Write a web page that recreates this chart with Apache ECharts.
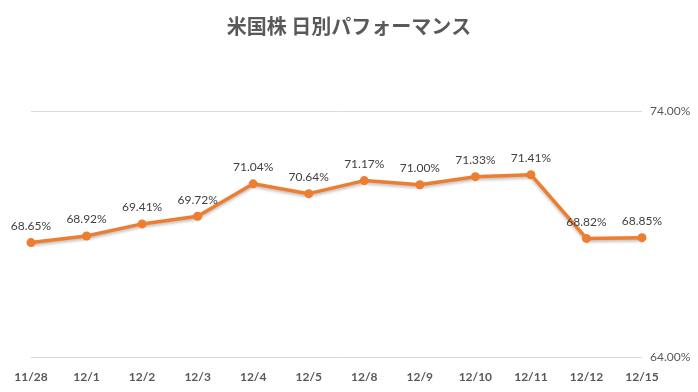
<!DOCTYPE html>
<html><head><meta charset="utf-8">
<script src="https://cdn.jsdelivr.net/npm/echarts@6/dist/echarts.min.js"></script>
<style>html,body{margin:0;padding:0;background:#fff}#c{width:698px;height:392px}</style>
</head><body><div id="c"></div>
<script>
const categories = ['11/28','12/1','12/2','12/3','12/4','12/5','12/8','12/9','12/10','12/11','12/12','12/15'];
const values = [68.65,68.92,69.41,69.72,71.04,70.64,71.17,71.00,71.33,71.41,68.82,68.85];
const yMin = 64, yMax = 74, yInterval = 10;
const titleText = '米国株 日別パフォーマンス';

const chart = echarts.init(document.getElementById('c'));
chart.setOption({
  animation: false,
  backgroundColor: '#fff',
  title: {
    text: titleText, left: 'center', top: 11,
    textStyle: { fontFamily: 'Noto Sans CJK JP', fontSize: 20, fontWeight: 'bold', color: '#595959' }
  },
  grid: { left: 31, right: 56, top: 111, bottom: 35, containLabel: false },
  xAxis: {
    type: 'category', data: categories, boundaryGap: false,
    axisLine: { show: false }, axisTick: { show: false },
    axisLabel: { color: '#595959', fontWeight: 'bold', fontSize: 12, fontFamily: 'Lato', margin: 14 }
  },
  yAxis: {
    type: 'value', position: 'right', min: yMin, max: yMax, interval: yInterval,
    axisLine: { show: false }, axisTick: { show: false },
    axisLabel: { color: '#595959', fontSize: 12, fontFamily: 'Lato', margin: 8,
      formatter: v => v.toFixed(2) + '%' },
    splitLine: { lineStyle: { color: '#d9d9d9', width: 1 } }
  },
  series: [{
    type: 'line', data: values, symbol: 'circle', symbolSize: 9,
    lineStyle: { color: '#ED7D31', width: 3.5, shadowColor: 'rgba(0,0,0,0.25)', shadowBlur: 3, shadowOffsetY: 2 },
    itemStyle: { color: '#ED7D31' },
    label: { show: true, position: 'top', distance: 6, color: '#404040', fontSize: 12, fontFamily: 'Lato',
      formatter: p => p.value.toFixed(2) + '%' }
  }]
});
</script></body></html>
